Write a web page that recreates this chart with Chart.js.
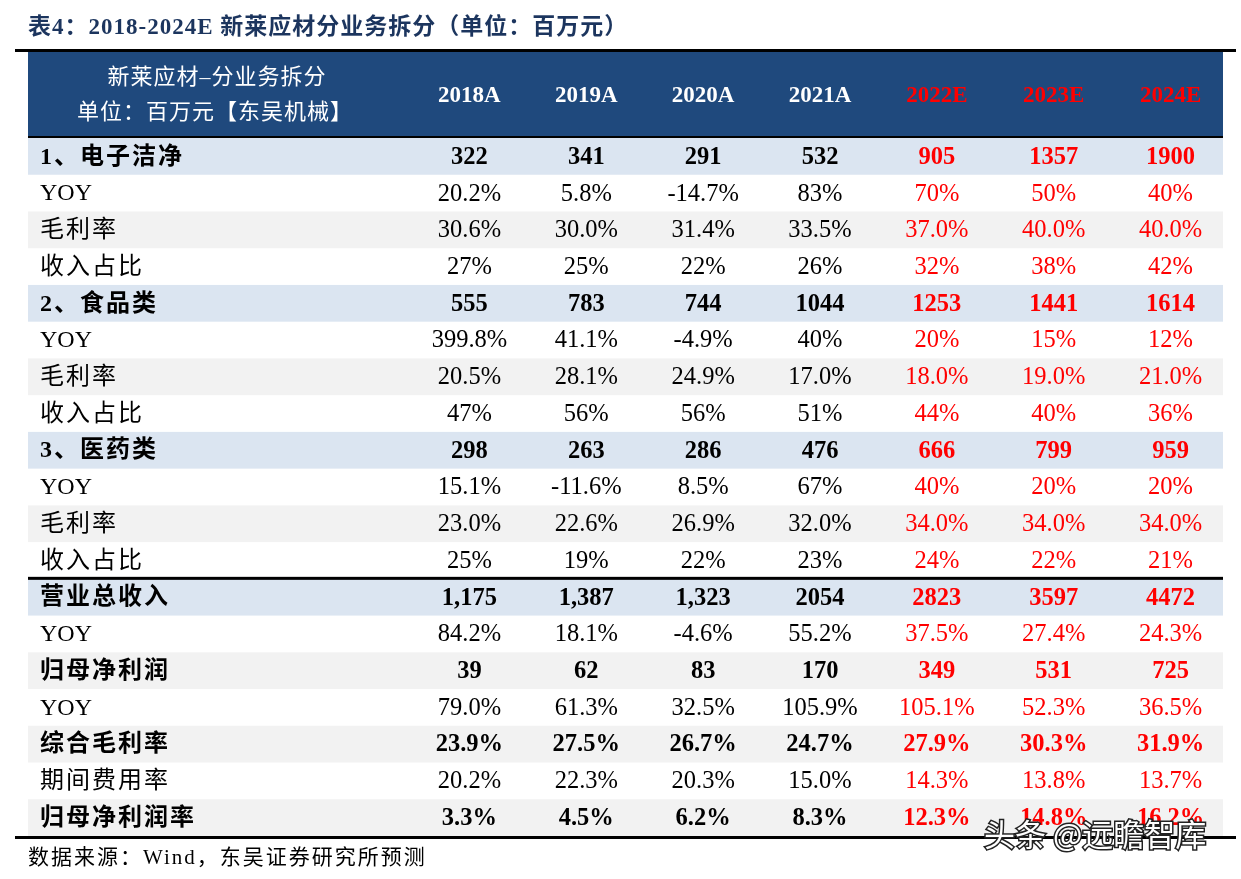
<!DOCTYPE html>
<html>
<head>
<meta charset="utf-8">
<script src="https://cdn.jsdelivr.net/npm/chart.js@4.4.1/dist/chart.umd.min.js"></script>
<style>
html,body{margin:0;padding:0;background:#fff}
#wrap{width:1241px;height:879px}
</style>
</head>
<body>
<div id="wrap"><canvas id="myChart" width="1241" height="879"></canvas></div>
<script>
// columns
const years=['2018A','2019A','2020A','2021A','2022E','2023E','2024E'];
// row names (top to bottom)
const rowLabels=['1、电子洁净','YOY','毛利率','收入占比','2、食品类','YOY','毛利率','收入占比','3、医药类','YOY','毛利率','收入占比','营业总收入','YOY','归母净利润','YOY','综合毛利率','期间费用率','归母净利润率'];

// values by row
const elecRev=['322','341','291','532','905','1357','1900'];
const elecYoy=['20.2%','5.8%','-14.7%','83%','70%','50%','40%'];
const elecGm=['30.6%','30.0%','31.4%','33.5%','37.0%','40.0%','40.0%'];
const elecShare=['27%','25%','22%','26%','32%','38%','42%'];
const foodRev=['555','783','744','1044','1253','1441','1614'];
const foodYoy=['399.8%','41.1%','-4.9%','40%','20%','15%','12%'];
const foodGm=['20.5%','28.1%','24.9%','17.0%','18.0%','19.0%','21.0%'];
const foodShare=['47%','56%','56%','51%','44%','40%','36%'];
const medRev=['298','263','286','476','666','799','959'];
const medYoy=['15.1%','-11.6%','8.5%','67%','40%','20%','20%'];
const medGm=['23.0%','22.6%','26.9%','32.0%','34.0%','34.0%','34.0%'];
const medShare=['25%','19%','22%','23%','24%','22%','21%'];
const totalRev=['1,175','1,387','1,323','2054','2823','3597','4472'];
const totalYoy=['84.2%','18.1%','-4.6%','55.2%','37.5%','27.4%','24.3%'];
const netProfit=['39','62','83','170','349','531','725'];
const netYoy=['79.0%','61.3%','32.5%','105.9%','105.1%','52.3%','36.5%'];
const totalGm=['23.9%','27.5%','26.7%','24.7%','27.9%','30.3%','31.9%'];
const expenseRate=['20.2%','22.3%','20.3%','15.0%','14.3%','13.8%','13.7%'];
const netMargin=['3.3%','4.5%','6.2%','8.3%','12.3%','14.8%','16.2%'];

const rows=[elecRev,elecYoy,elecGm,elecShare,foodRev,foodYoy,foodGm,foodShare,medRev,medYoy,medGm,medShare,totalRev,totalYoy,netProfit,netYoy,totalGm,expenseRate,netMargin];

// styling per row: s = blue section row (bold), g = grey, b = grey + bold, '' = white
const rowStyle=['s','','g','','s','','g','','s','','g','','s','','b','','b','','b'];

const NAVY='#1f497d', BLUE='#dbe5f1', GREY='#f2f2f2', RED='#ff0000';
const SERIF='"Liberation Serif","Noto Sans CJK SC"';
const TL=28, TR=1223; // table edges

const tablePlugin={
  id:'tableDraw',
  beforeDraw(chart){
    const ctx=chart.ctx, y=chart.scales.y;
    ctx.save();
    ctx.fillStyle='#fff';
    ctx.fillRect(0,0,chart.width,chart.height);
    const h=y.getPixelForValue(1)-y.getPixelForValue(0);
    rowStyle.forEach((s,i)=>{
      if(!s) return;
      ctx.fillStyle=s==='s'?BLUE:GREY;
      ctx.fillRect(TL,y.getPixelForValue(i)-h/2,TR-TL,h);
    });
    ctx.restore();
  },
  afterDraw(chart){
    const ctx=chart.ctx, x=chart.scales.x, y=chart.scales.y, ca=chart.chartArea;
    const h=y.getPixelForValue(1)-y.getPixelForValue(0);
    ctx.save();
    // title
    ctx.fillStyle='#1c355e';
    ctx.font='bold 23px '+SERIF;
    ctx.letterSpacing='1px';
    ctx.textBaseline='middle';
    ctx.textAlign='left';
    ctx.fillText('表4：2018-2024E 新莱应材分业务拆分（单位：百万元）',TL,28);
    // header band
    const hTop=ca.top-86;
    ctx.fillStyle=NAVY;
    ctx.fillRect(TL,hTop,TR-TL,84);
    ctx.fillStyle='#000';
    ctx.fillRect(15,hTop-3,1221,3);
    ctx.fillRect(TL,ca.top-2,TR-TL,2);
    ctx.fillRect(TL,y.getPixelForValue(12)-h/2-2,TR-TL,3);
    ctx.fillRect(15,ca.bottom,1221,3);
    // header text
    ctx.fillStyle='#fff';
    ctx.textAlign='center';
    ctx.font='22px '+SERIF;
    ctx.fillText('新莱应材–分业务拆分',217,hTop+26);
    ctx.fillText('单位：百万元【东吴机械】',215,hTop+61);
    ctx.letterSpacing='0px';
    ctx.font='bold 23px '+SERIF;
    years.forEach((yr,j)=>{
      ctx.fillStyle=j>=4?RED:'#fff';
      ctx.fillText(yr,x.getPixelForValue(j),hTop+44);
    });
    // body
    rows.forEach((vals,i)=>{
      const cy=y.getPixelForValue(i)+1;
      const bold=rowStyle[i]==='s'||rowStyle[i]==='b';
      ctx.fillStyle='#000';
      ctx.textAlign='left';
      ctx.font=(bold?'bold ':'')+'24px '+SERIF;
      ctx.letterSpacing=/^[A-Z]/.test(rowLabels[i])?'0px':'2px';
      ctx.fillText(rowLabels[i],40,cy);
      ctx.letterSpacing='0px';
      ctx.textAlign='center';
      ctx.font=(bold?'bold ':'')+'24.5px '+SERIF;
      vals.forEach((v,j)=>{
        ctx.fillStyle=j>=4?RED:'#000';
        ctx.fillText(v,x.getPixelForValue(j),cy);
      });
    });
    // source
    ctx.fillStyle='#000';
    ctx.textAlign='left';
    ctx.font='21px '+SERIF;
    ctx.letterSpacing='2px';
    ctx.fillText('数据来源：Wind，东吴证券研究所预测',TL,858);
    // watermark
    ctx.letterSpacing='0px';
    ctx.font='31px "Noto Sans CJK SC"';
    ctx.lineWidth=3;
    ctx.strokeStyle='#222';
    ctx.strokeText('头条 @远瞻智库',984,834);
    ctx.fillStyle='#fff';
    ctx.fillText('头条 @远瞻智库',984,834);
    ctx.restore();
  }
};

let myChart=document.getElementById('myChart');
let chart=new Chart(myChart,{
  type:'bar',
  data:{labels:years,datasets:[]},
  options:{
    responsive:false,
    animation:false,
    layout:{padding:{left:411,right:12,top:138,bottom:43}},
    plugins:{legend:{display:false},tooltip:{enabled:false}},
    scales:{
      x:{type:'category',display:false,offset:true},
      y:{type:'category',labels:rowLabels,display:false,offset:true}
    }
  },
  plugins:[tablePlugin]
});
</script>
</body>
</html>
